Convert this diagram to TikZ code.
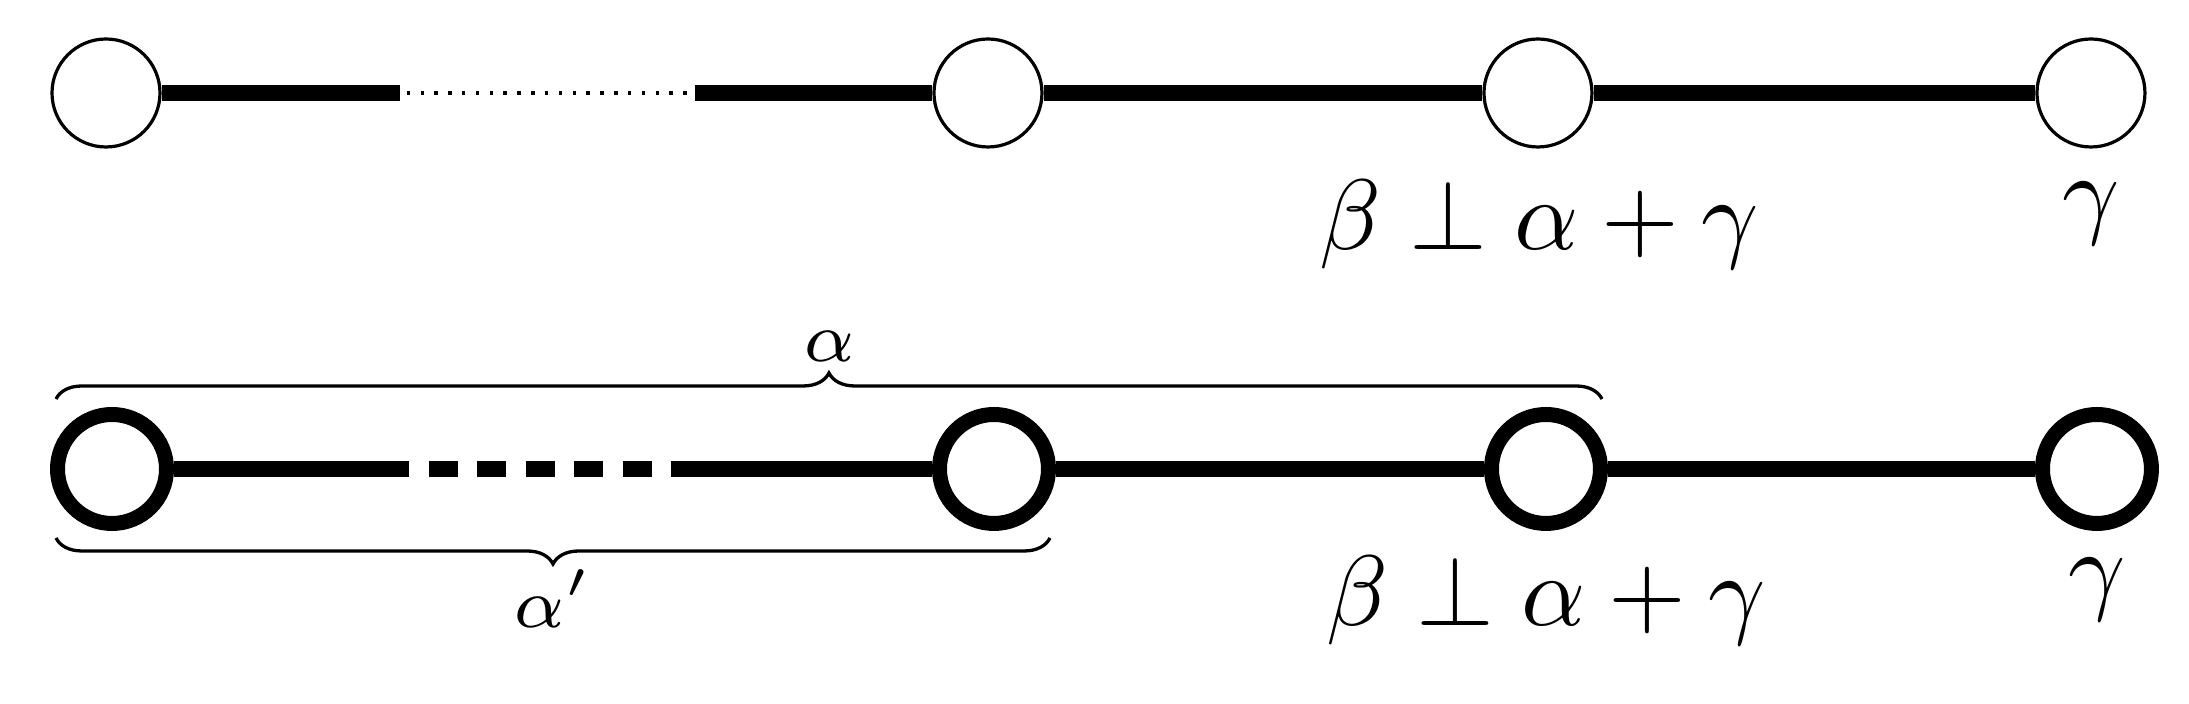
\documentclass[tikz,border=0pt]{standalone}
\usetikzlibrary{decorations.pathreplacing}
\begin{document}
\begin{tikzpicture}[x=0.1pt,y=-0.1pt,
  vtx/.style={circle,draw,fill=white,inner sep=0pt,minimum size=10.8pt,line width=0.32pt},
  vtxb/.style={circle,draw,fill=white,inner sep=0pt,minimum size=10.9pt,line width=1.5pt},
  bond/.style={line width=1.6pt},
  dotbond/.style={line width=0.34pt,dash pattern=on 0.34pt off 1.043pt},
  dashbond/.style={line width=1.6pt,dash pattern=on 2.9pt off 1.95pt},
  lbl/.style={inner sep=0pt,anchor=base},
  brc/.style={decorate,decoration={brace,amplitude=2.6pt},line width=0.33pt},
  brcm/.style={decorate,decoration={brace,mirror,amplitude=2.6pt},line width=0.33pt}]
\useasboundingbox (0,0) rectangle (2189,704);

% top row
\node[vtx] (a1) at (106,93) {};
\node[vtx] (a2) at (988,93) {};
\node[vtx] (a3) at (1538,93) {};
\node[vtx] (a4) at (2091,93) {};
\coordinate (a1e) at (400,93);
\coordinate (d1s) at (406.7,93);
\coordinate (d1e) at (687,93);
\coordinate (a2s) at (695,93);
\draw[bond] (a1) -- (a1e);
\draw[dotbond] (d1s) -- (d1e);
\draw[bond] (a2s) -- (a2);
\draw[bond] (a2) -- (a3);
\draw[bond] (a3) -- (a4);
\node[lbl] (l3) at (1539,250) {$\beta\perp\alpha+\gamma$};
\node[lbl] (l4) at (2091,226) {$\gamma$};

% bottom row
\node[vtxb] (b1) at (112,469) {};
\node[vtxb] (b2) at (994,469) {};
\node[vtxb] (b3) at (1546,469) {};
\node[vtxb] (b4) at (2097,469) {};
\coordinate (b1e) at (409,469);
\coordinate (e1s) at (429,469);
\coordinate (e1e) at (700.5,469);
\coordinate (b2s) at (700,469);
\draw[bond] (b1) -- (b1e);
\draw[dashbond] (e1s) -- (e1e);
\draw[bond] (b2s) -- (b2);
\draw[bond] (b2) -- (b3);
\draw[bond] (b3) -- (b4);
\node[lbl] (m3) at (1546,626) {$\beta\perp\alpha+\gamma$};
\node[lbl] (m4) at (2097,602) {$\gamma$};

% braces
\coordinate (ts) at (56,399);
\coordinate (te) at (1602,399);
\draw[brc] (ts) -- (te);
\node[lbl,font=\scriptsize] (la) at (829,362) {$\alpha$};
\coordinate (bs) at (56,538);
\coordinate (be) at (1050,538);
\draw[brcm] (bs) -- (be);
\node[lbl,font=\scriptsize] (lb) at (553,628) {$\alpha'$};
\end{tikzpicture}
\end{document}
